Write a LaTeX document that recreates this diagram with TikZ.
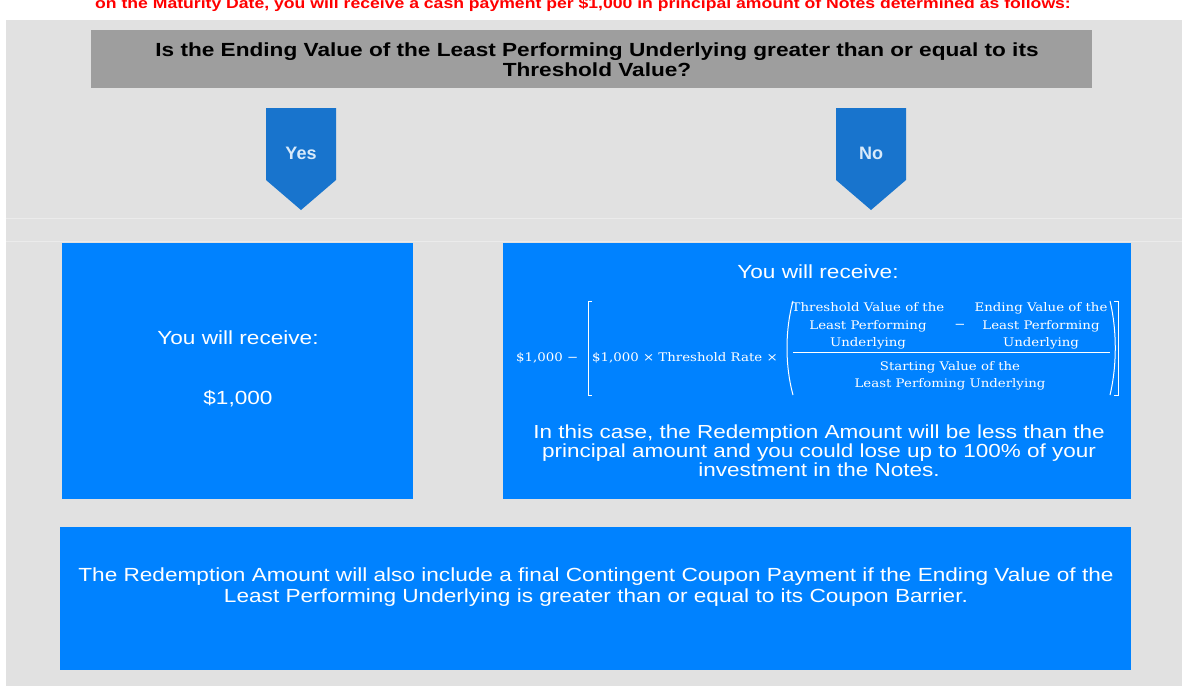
\documentclass[tikz,border=0pt]{standalone}
\usepackage{fontspec}
\setmainfont{Liberation Sans}
\newfontfamily\widesans{Liberation Sans}[FakeStretch=1.19]
\newfontfamily\formulafont{DejaVu Serif}[FakeStretch=1.13]
\definecolor{panelgray}{HTML}{E1E1E1}
\definecolor{bandgray}{HTML}{EBEBEB}
\definecolor{titlegray}{HTML}{9E9E9E}
\definecolor{arrowblue}{HTML}{1874CD}
\definecolor{boxblue}{HTML}{0082FF}
\definecolor{notered}{HTML}{FF0000}
\definecolor{arrowtext}{HTML}{D8EAFA}

\begin{document}
\begin{tikzpicture}[x=1pt,y=-1pt,
  boxtext/.style={text=white,align=center,inner sep=0pt},
  fml/.style={text=white,font=\formulafont\fontsize{11.8}{17.5}\selectfont,align=center,inner sep=0pt},
  bracket/.style={white,line width=1pt}]
\useasboundingbox (0,0) rectangle (1182,686);
\fill [white] (0,0) rectangle (1182,686);
\fill [panelgray] (6,20) rectangle (1182,686);
\draw [bandgray] (6,218) -- (1182,218);
\draw [bandgray] (6,241) -- (1182,241);

\node [text=notered,font=\widesans\bfseries\fontsize{14.8}{16}\selectfont,anchor=base,inner sep=0pt] (intro) at (583,8) {on the Maturity Date, you will receive a cash payment per \$1,000 in principal amount of Notes determined as follows:};

% question
\fill [titlegray] (91,30) rectangle (1092,88);
\node [font=\widesans\bfseries\fontsize{19}{20}\selectfont,align=center,inner sep=0pt] (question) at (597,60) {Is the Ending Value of the Least Performing Underlying greater than or equal to its\\Threshold Value?};

% yes / no pointers
\fill [arrowblue] (266,108) -- (336,108) -- (336,180) -- (301,210) -- (266,180) -- cycle;
\node [text=arrowtext,font=\bfseries\fontsize{18}{18}\selectfont] (yes) at (301,153) {Yes};
\fill [arrowblue] (836,108) -- (906,108) -- (906,180) -- (871,210) -- (836,180) -- cycle;
\node [text=arrowtext,font=\bfseries\fontsize{18}{18}\selectfont] (no) at (871,153) {No};

% left box
\fill [boxblue] (62,243) rectangle (413,499);
\node [boxtext,font=\widesans\fontsize{19}{20}\selectfont] (getleft) at (238,338) {You will receive:};
\node [boxtext,font=\widesans\fontsize{19}{20}\selectfont] (par) at (238,399) {\$1,000};

% right box
\fill [boxblue] (503,243) rectangle (1131,499);
\node [boxtext,font=\widesans\fontsize{19}{20}\selectfont] (getright) at (818,272) {You will receive:};
\node [fml,anchor=west] (par2) at (516,358) {\$1,000 −};
\draw [bracket] (592,301) -- (588,301) -- (588,395) -- (592,395);
\node [fml,anchor=west] (rate) at (592,358) {\$1,000 × Threshold Rate ×};
\draw [bracket] (793,301) .. controls (785,330) and (785,366) .. (793,395);
\node [fml] (thresh) at (868,326) {Threshold Value of the\\Least Performing\\Underlying};
\node [fml] (minus) at (960,326) {−};
\node [fml] (ending) at (1041,326) {Ending Value of the\\Least Performing\\Underlying};
\draw [white,line width=0.8pt] (793,352) -- (1110,352);
\node [fml] (start) at (950,376) {Starting Value of the\\Least Perfoming Underlying};
\draw [bracket] (1110,301) .. controls (1117,330) and (1117,366) .. (1110,395);
\draw [bracket] (1114,301) -- (1118,301) -- (1118,395) -- (1114,395);
\node [boxtext,font=\widesans\fontsize{18.9}{19}\selectfont] (loss) at (819,451) {In this case, the Redemption Amount will be less than the\\principal amount and you could lose up to 100\% of your\\investment in the Notes.};

% bottom box
\fill [boxblue] (60,527) rectangle (1131,670);
\node [boxtext,font=\widesans\fontsize{19}{21}\selectfont] (coupon) at (596,587) {The Redemption Amount will also include a final Contingent Coupon Payment if the Ending Value of the\\Least Performing Underlying is greater than or equal to its Coupon Barrier.};

\end{tikzpicture}
\end{document}
